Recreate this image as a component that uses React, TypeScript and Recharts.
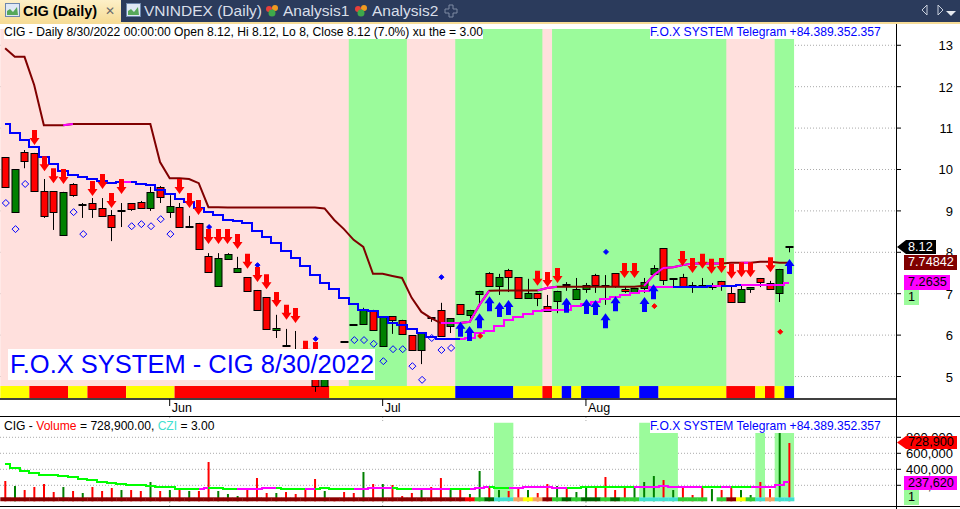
import React from "react";
import {
  Bar,
  CartesianGrid,
  Cell,
  ComposedChart,
  Line,
  ReferenceArea,
  ReferenceLine,
  XAxis,
  YAxis,
} from "recharts";

const FONT = '"Liberation Sans", Arial, sans-serif';

const opens = [10.30,8.97,10.42,10.40,9.48,9.47,8.42,9.65,9.15,9.18,9.07,8.90,9.00,9.19,9.21,9.07,9.58,8.97,9.09,8.61,8.71,7.91,7.19,7.84,7.52,7.40,7.09,6.92,6.12,5.74,5.25,5.45,5.28,4.77,5.15,5.83,6.24,6.27,6.61,5.74,6.46,6.37,6.00,5.64,6.41,6.61,6.22,6.75,6.49,6.99,7.50,7.19,7.57,7.40,6.90,7.02,6.70,6.82,7.21,6.87,7.11,7.45,7.19,7.50,7.11,7.04,7.14,7.48,8.10,7.36,7.40,7.19,7.19,7.16,7.31,7.02,6.80,7.11,7.38,7.26,7.02,8.12];
const highs = [10.30,10.01,10.47,10.40,9.77,9.47,9.46,9.67,9.19,9.31,9.31,9.02,9.19,9.19,9.24,9.58,9.60,9.38,9.19,8.88,8.71,7.98,7.98,7.98,7.89,7.40,7.09,6.92,6.49,6.15,6.10,5.50,5.30,5.45,5.50,5.83,6.24,6.66,6.61,6.46,6.46,6.37,6.00,6.05,6.43,6.78,6.41,6.75,6.61,7.07,7.52,7.48,7.60,7.40,7.36,7.02,6.97,7.07,7.28,7.38,7.26,7.48,7.45,7.50,7.16,7.14,7.38,7.69,8.10,7.36,7.48,7.28,7.38,7.26,7.31,7.19,7.19,7.16,7.38,7.31,7.60,8.12];
const lows = [9.58,8.95,10.03,9.48,8.83,8.54,8.42,9.34,8.83,8.83,8.88,8.27,8.61,9.00,9.07,9.00,9.19,8.83,8.61,8.61,8.08,7.52,7.19,7.84,7.52,7.07,6.61,6.15,5.93,5.74,5.10,5.10,4.63,4.77,5.10,5.83,6.24,6.27,6.12,5.74,6.03,6.03,5.64,5.30,6.32,5.98,6.05,6.51,6.41,6.70,7.19,6.97,7.04,6.90,6.90,6.70,6.58,6.53,7.07,6.87,7.02,7.02,6.73,7.14,7.02,7.04,7.02,7.43,7.21,7.14,7.19,7.02,7.16,7.09,7.07,6.80,6.80,7.02,7.16,7.11,6.80,8.00];
const closes = [9.58,10.01,10.20,9.48,8.88,8.97,9.46,9.38,9.15,9.03,8.88,8.61,9.00,9.05,9.07,9.46,9.34,9.12,8.61,8.61,8.08,7.52,7.86,7.96,7.62,7.07,6.61,6.15,6.17,5.74,5.20,5.20,4.77,5.40,5.45,5.83,6.24,6.61,6.12,6.46,6.37,6.03,5.64,6.05,6.41,5.98,6.41,6.51,6.61,7.07,7.19,7.40,7.40,6.90,7.02,6.90,6.58,7.07,7.21,7.11,7.21,7.21,7.19,7.19,7.05,7.14,7.28,7.62,7.33,7.36,7.19,7.19,7.19,7.21,7.19,6.80,7.11,7.16,7.28,7.11,7.60,8.12];

const upperLine = [12.93,12.72,12.72,12.04,11.07,11.07,11.07,11.10,11.10,11.10,11.10,11.10,11.10,11.10,11.10,11.10,10.18,9.79,9.79,9.77,9.67,9.09,9.09,9.08,9.08,9.08,9.08,9.08,9.08,9.08,9.08,9.08,9.08,9.06,8.78,8.56,8.30,8.13,7.48,7.48,7.43,7.38,6.90,6.56,6.41,6.29,6.29,6.29,6.32,6.73,7.07,7.08,7.08,7.08,7.08,7.08,7.14,7.17,7.17,7.17,7.17,7.17,7.17,7.17,7.17,7.17,7.19,7.45,7.62,7.64,7.69,7.73,7.73,7.73,7.73,7.75,7.75,7.75,7.77,7.77,7.75,7.75];
const lowerLine = [11.10,10.87,10.71,10.54,10.30,10.13,9.96,9.87,9.81,9.76,9.71,9.67,9.70,9.70,9.65,9.63,9.50,9.42,9.29,9.21,9.07,8.97,8.90,8.78,8.76,8.71,8.51,8.37,8.22,8.03,7.86,7.67,7.45,7.26,7.11,6.90,6.75,6.61,6.58,6.44,6.29,6.24,6.15,6.05,5.95,5.91,5.91,5.91,5.93,6.05,6.10,6.22,6.37,6.44,6.51,6.58,6.61,6.61,6.61,6.70,6.75,6.80,6.87,6.92,6.97,7.02,7.07,7.16,7.16,7.16,7.16,7.16,7.16,7.19,7.19,7.19,7.21,7.21,7.21,7.21,7.21,7.26];
const upperPinkRuns = [[6,7],[45,50],[55,57],[66,74],[76,77]];
const lowerPinkRuns = [[12,13],[47,69],[73,74],[76,81]];

const sellBars = [3,4,5,6,9,10,11,12,18,19,20,21,22,23,24,25,26,27,28,29,30,31,32,55,56,57,64,65,70,71,72,73,74,75,76,77,79];
const sellTips = [10.59,9.96,9.67,9.65,9.36,9.53,9.07,9.41,9.41,9.07,8.90,8.20,8.20,8.20,8.08,7.60,7.28,7.11,6.68,6.37,6.29,5.50,5.47,7.19,7.16,7.26,7.38,7.38,7.67,7.50,7.60,7.48,7.50,7.36,7.40,7.40,7.52];
const buyBars = [47,48,49,50,51,52,58,60,61,62,63,66,67,81];
const buyTips = [6.32,6.22,6.53,6.94,6.80,6.85,6.90,6.87,6.85,6.53,6.94,6.92,7.23,7.84];
const hollowBars = [0,1,2,7,8,13,14,15,16,17,36,37,38,39,40,41,42,43,44,45,46];
const hollowPrices = [9.19,8.56,9.65,8.97,8.44,8.63,8.68,8.63,8.80,8.44,5.88,5.88,5.79,5.37,5.66,5.66,5.25,4.92,5.93,5.64,5.69];
const blueDotBars = [21,26,32,45,62];
const blueDotPrices = [8.61,7.69,5.91,7.40,8.01];
const redDotBars = [49,67,80];
const redDotPrices = [5.98,6.70,6.08];

const greenRuns = [[36,41],[47,55],[57,74],[80,81]];
// strip under the candles: last bar of each run, and its colour
const stripEnds = [2,6,8,12,17,33,46,52,55,56,57,58,59,63,65,67,74,77,78,79,80,81];
const stripFills = ["#ffff00","#ff0000","#ffff00","#ff0000","#ffff00","#ff0000","#ffff00","#0000ff","#ffff00","#ff0000","#ffff00","#0000ff","#ffff00","#0000ff","#ffff00","#0000ff","#ffff00","#ff0000","#ffff00","#ff0000","#ffff00","#0000ff"];

const priceTicks = [5, 6, 7, 8, 9, 10, 11, 12, 13];
const monthBars = [17, 39, 60];
const monthNames = ["Jun", "Jul", "Aug"];

const volumes = [254,191,141,179,216,116,179,129,104,179,129,166,141,141,129,241,129,141,154,129,129,491,129,91,66,166,291,104,104,116,91,166,279,129,29,116,104,366,216,216,204,66,104,141,179,291,141,154,91,379,179,141,129,154,141,104,216,191,166,116,179,179,304,141,191,179,241,316,266,141,191,79,179,154,141,166,141,79,241,154,854,729].map((k) => k * 1000);
const volumeUp = [0,1,0,0,0,0,1,0,1,0,0,0,1,0,0,1,0,1,0,1,0,0,1,1,1,0,0,0,1,0,0,0,0,1,0,0,0,1,0,1,0,0,0,1,0,0,1,0,1,1,0,1,0,0,1,0,0,1,0,1,1,0,0,0,0,1,1,1,0,1,0,0,0,1,0,0,1,1,0,0,1,0];
const volumeAvg = [466,416,379,354,329,329,316,304,279,266,241,229,216,210,204,191,179,179,154,154,154,166,166,154,154,154,154,166,170,154,154,154,158,166,154,154,154,160,166,166,166,154,154,154,154,154,154,158,158,166,183,170,170,170,183,183,183,170,170,170,178,178,178,178,178,178,183,183,195,183,183,183,183,183,183,183,183,183,183,183,210,238].map((k) => k * 1000);
const volumePinkRuns = [[20,21],[24,28],[31,32],[36,40],[42,46],[48,50],[52,58],[65,68],[69,72],[74,75],[77,81]];
const volumeStripEnds = [47,48,49,50,52,53,54,55,56,57,58,59,61,62,63,65,69,72,73,74,75,76,77,78,79,81];
const volumeStripFills = ["#8b0000","#ff0000","#32cd32","#006400","#40e0d0","#f4a460","#ffff00","#f4a460","#8b0000","#32cd32","#006400","#32cd32","#006400","#32cd32","#006400","#32cd32","#40e0d0","#32cd32","transparent","#32cd32","#8b0000","#ffff00","#32cd32","#40e0d0","#f4a460","#40e0d0"];
const volumeBandBars = [[51,52,981],[66,69,981],[78,78,854],[80,81,854]];
const volumeTicks = [200000, 400000, 600000, 800000];

const inRuns = (i: number, runs: number[][]) => runs.some(([a, b]) => i >= a && i <= b);
const pick = (i: number, bars: number[], vals: number[]) => {
  const at = bars.indexOf(i);
  return at < 0 ? null : vals[at];
};
const fillAt = (i: number, ends: number[], fills: string[]) => fills[ends.findIndex((e) => i <= e)];

const priceRows = opens.map((open, i) => ({
  i,
  open,
  close: closes[i],
  high: highs[i],
  low: lows[i],
  range: [lows[i], highs[i]],
  upper: upperLine[i],
  lower: lowerLine[i],
  upperPink: inRuns(i, upperPinkRuns) ? upperLine[i] : null,
  lowerPink: inRuns(i, lowerPinkRuns) ? lowerLine[i] : null,
  sell: pick(i, sellBars, sellTips),
  buy: pick(i, buyBars, buyTips),
  hollow: pick(i, hollowBars, hollowPrices),
  blueDot: pick(i, blueDotBars, blueDotPrices),
  redDot: pick(i, redDotBars, redDotPrices),
}));

const volumeRows = volumes.map((volume, i) => ({
  i,
  volume,
  avg: volumeAvg[i],
  avgPink: inRuns(i, volumePinkRuns) ? volumeAvg[i] : null,
  strip: 50000,
  stripColor: fillAt(i, volumeStripEnds, volumeStripFills),
}));

function Candle(props: any) {
  const { x, y, width, height, payload } = props;
  const cx = Math.round(x + width / 2 + 0.7) - 0.5;
  const span = payload.high - payload.low;
  const toY = (v: number) => (span > 0 ? y + ((payload.high - v) / span) * height : y);
  const top = toY(Math.max(payload.open, payload.close));
  const bottom = toY(Math.min(payload.open, payload.close));
  const doji = payload.open === payload.close;
  return (
    <g>
      <line x1={cx} x2={cx} y1={y} y2={y + height} stroke="#000" strokeWidth={1} />
      {doji ? (
        <line x1={cx - 4} x2={cx + 4} y1={Math.round(top)} y2={Math.round(top)} stroke="#000" strokeWidth={2} />
      ) : (
        <rect
          x={cx - 3.5}
          y={Math.round(top) + 0.5}
          width={7}
          height={Math.max(1, Math.round(bottom - top))}
          fill={payload.close > payload.open ? "#008000" : "#ff0000"}
          stroke="#000"
          strokeWidth={1}
        />
      )}
    </g>
  );
}

function arrowDot(color: string, dir: number) {
  return (p: any) => {
    if (p.cy == null || p.value == null) return <g key={p.index} />;
    const x = Math.round(p.cx + 0.7) - 0.5;
    const y = p.cy;
    const pts = [[0, 0], [5, 7], [2.5, 7], [2.5, 15], [-2.5, 15], [-2.5, 7], [-5, 7]];
    return (
      <polygon
        key={p.index}
        points={pts.map(([a, b]) => `${x + a},${y + b * dir}`).join(" ")}
        fill={color}
      />
    );
  };
}

function diamondDot(fill: string, stroke: string, r: number) {
  return (p: any) => {
    if (p.cy == null || p.value == null) return <g key={p.index} />;
    const x = p.cx + 0.7;
    const y = p.cy;
    return (
      <polygon
        key={p.index}
        points={`${x},${y - r} ${x + r},${y} ${x},${y + r} ${x - r},${y}`}
        fill={fill}
        stroke={stroke}
        strokeWidth={1}
      />
    );
  };
}

function rightTick(label: (v: number) => string) {
  return (p: any) => (
    <text x={953} y={p.y + 5} textAnchor="end" fontFamily={FONT} fontSize={13} fill="#000">
      {label(p.payload.value)}
    </text>
  );
}

function monthTick(p: any) {
  const at = monthBars.indexOf(p.payload.value);
  return (
    <text x={p.x + 2} y={p.y + 4} fontFamily={FONT} fontSize={12.5} fill="#000">
      {monthNames[at]}
    </text>
  );
}

function Tag(props: { x: number; y: number; w: number; h: number; bg: string; color: string; text: string; arrow?: boolean; pad?: number }) {
  const { x, y, w, h, bg, color, text, arrow, pad } = props;
  return (
    <div
      style={{
        position: "absolute",
        left: x,
        top: y,
        width: w,
        height: h,
        boxSizing: "border-box",
        background: bg,
        color,
        font: `12.7px ${FONT}`,
        lineHeight: `${h}px`,
        paddingLeft: pad == null ? 4 : pad,
        whiteSpace: "pre",
        overflow: "hidden",
        clipPath: arrow ? `polygon(0 50%, 9px 0, 100% 0, 100% 100%, 9px 100%)` : undefined,
      }}
    >
      {text}
    </div>
  );
}

function Caption(props: { x: number; y: number; children: React.ReactNode; color?: string }) {
  return (
    <div
      style={{
        position: "absolute",
        left: props.x,
        top: props.y,
        height: 14,
        background: "#fff",
        color: props.color || "#000",
        font: `12.1px ${FONT}`,
        lineHeight: "14px",
        whiteSpace: "pre",
      }}
    >
      {props.children}
    </div>
  );
}

function ChartIcon({ x }: { x: number }) {
  return (
    <svg style={{ position: "absolute", left: x, top: 3 }} width={15} height={15}>
      <rect x={0.5} y={0.5} width={14} height={13} fill="#dfe8f5" stroke="#6d87ad" />
      <polygon points="2,12 2,8 5,6 8,9 12,4 13,12" fill="#57a85a" />
    </svg>
  );
}

function HeartIcon({ x }: { x: number }) {
  return (
    <svg style={{ position: "absolute", left: x, top: 4 }} width={15} height={14}>
      <circle cx={4} cy={5} r={3} fill="#e8403a" />
      <circle cx={10} cy={4} r={3} fill="#f09a20" />
      <circle cx={7} cy={9} r={3.5} fill="#3fa84a" />
    </svg>
  );
}

function Header() {
  const tabText = { position: "absolute" as const, top: 2, font: `15.5px ${FONT}`, lineHeight: "18px", color: "#d9dfe9", whiteSpace: "pre" as const };
  return (
    <div style={{ position: "absolute", left: 0, top: 0, width: 960, height: 24, background: "#2b3b5c" }}>
      <div style={{ position: "absolute", left: 0, top: 0, width: 121, height: 22, background: "linear-gradient(#fdf0c8,#f6dc97)" }} />
      <div style={{ position: "absolute", left: 0, top: 22, width: 960, height: 2, background: "#f6dc97" }} />
      <ChartIcon x={5} />
      <div style={{ ...tabText, left: 23, color: "#000", fontWeight: 700, fontSize: 14.5 }}>CIG (Daily)</div>
      <div style={{ ...tabText, left: 105, color: "#6b6b6b", fontSize: 12 }}>✕</div>
      <ChartIcon x={126} />
      <div style={{ ...tabText, left: 144 }}>VNINDEX (Daily)</div>
      <HeartIcon x={265} />
      <div style={{ ...tabText, left: 283 }}>Analysis1</div>
      <HeartIcon x={354} />
      <div style={{ ...tabText, left: 372 }}>Analysis2</div>
      <svg style={{ position: "absolute", left: 444, top: 4 }} width={14} height={14}>
        <path d="M5 1h4v4h4v4H9v4H5V9H1V5h4z" fill="none" stroke="#7f8ba3" />
      </svg>
      <svg style={{ position: "absolute", left: 918, top: 3 }} width={42} height={16}>
        <path d="M9 2 L4 7 L9 12 Z M20 2 L25 7 L20 12 Z" fill="none" stroke="#c8cfdc" />
        <path d="M28 8 h10 l-5 5 z" fill="#e6e9ef" />
      </svg>
    </div>
  );
}

function PriceChart() {
  const bottom = 4.77;
  const top = 13.39;
  return (
    <div style={{ position: "absolute", left: 0, top: 28 }}>
      <ComposedChart
        width={960}
        height={389}
        data={priceRows}
        barCategoryGap={0}
        margin={{ top: 0, right: 0, bottom: 0, left: 0 }}
      >
        <CartesianGrid vertical={false} stroke="#aaa" strokeDasharray="1 2" horizontalValues={priceTicks} />
        <XAxis
          dataKey="i"
          padding={{ left: 0.3, right: 101.94 }}
          ticks={monthBars}
          interval={0}
          height={18}
          tickSize={7}
          tick={monthTick}
          stroke="#000"
          axisLine={{ stroke: "#000", strokeWidth: 1.5 }}
          tickLine={{ stroke: "#000" }}
        />
        <YAxis
          orientation="right"
          width={64}
          domain={[4.457, 13.417]}
          ticks={priceTicks}
          interval={0}
          allowDataOverflow
          axisLine={false}
          tickSize={5}
          tickLine={{ stroke: "#000" }}
          tick={rightTick((v) => String(v))}
        />
        <ReferenceArea x1={0} x2={81} y1={bottom} y2={top} fill="#ffe0dd" fillOpacity={1} stroke="none" />
        {greenRuns.map(([a, b]) => (
          <ReferenceArea key={a} x1={a} x2={b} y1={bottom} y2={top} fill="#9bfb9b" fillOpacity={1} stroke="none" />
        ))}
        {stripEnds.map((end, n) => (
          <ReferenceArea key={end} x1={n ? stripEnds[n - 1] + 1 : 0} x2={end} y1={4.48} y2={bottom} fill={stripFills[n]} fillOpacity={1} stroke="none" />
        ))}
        <Bar dataKey="range" shape={Candle} isAnimationActive={false} />
        <Line dataKey="upper" stroke="#800000" strokeWidth={2} dot={false} isAnimationActive={false} />
        <Line dataKey="upperPink" stroke="#ff00ff" strokeWidth={2} dot={false} isAnimationActive={false} />
        <Line dataKey="lower" type="step" stroke="#0000ff" strokeWidth={2} dot={false} shapeRendering="crispEdges" isAnimationActive={false} />
        <Line dataKey="lowerPink" type="step" stroke="#ff00ff" strokeWidth={2} dot={false} shapeRendering="crispEdges" isAnimationActive={false} />
        <Line dataKey="hollow" stroke="none" dot={diamondDot("none", "#0000ff", 3.5)} isAnimationActive={false} />
        <Line dataKey="blueDot" stroke="none" dot={diamondDot("#0000ff", "#0000ff", 2.5)} isAnimationActive={false} />
        <Line dataKey="redDot" stroke="none" dot={diamondDot("#ff0000", "#ff0000", 2.5)} isAnimationActive={false} />
        <Line dataKey="sell" stroke="none" dot={arrowDot("#ff0000", -1)} isAnimationActive={false} />
        <Line dataKey="buy" stroke="none" dot={arrowDot("#0000ff", 1)} isAnimationActive={false} />
      </ComposedChart>
    </div>
  );
}

function VolumeChart() {
  const strip = 50000;
  return (
    <div style={{ position: "absolute", left: 0, top: 417 }}>
      <ComposedChart
        width={960}
        height={89}
        data={volumeRows}
        barCategoryGap={0}
        margin={{ top: 0, right: 0, bottom: 0, left: 0 }}
      >
        <CartesianGrid vertical={false} stroke="#aaa" strokeDasharray="1 2" horizontalValues={volumeTicks} />
        <XAxis dataKey="i" hide padding={{ left: 0.3, right: 101.94 }} />
        <XAxis dataKey="i" xAxisId="strip" hide padding={{ left: 0.3, right: 101.94 }} />
        <YAxis
          orientation="right"
          width={64}
          domain={[-58750, 1053750]}
          ticks={volumeTicks}
          interval={0}
          allowDataOverflow
          axisLine={false}
          tickSize={5}
          tickLine={{ stroke: "#000" }}
          tick={rightTick((v) => v.toLocaleString("en-US"))}
        />
        {volumeBandBars.map(([a, b, k]) => (
          <ReferenceArea key={a} x1={a} x2={b} y1={strip} y2={k * 1000} fill="#9bfb9b" fillOpacity={1} stroke="none" />
        ))}
        {monthBars.map((m) => (
          <ReferenceLine key={m} segment={[{ x: m, y: 1053750 }, { x: m, y: 985000 }]} stroke="#aaa" strokeDasharray="1 2" />
        ))}
        {monthBars.map((m) => (
          <ReferenceLine key={m} segment={[{ x: m, y: -58750 }, { x: m, y: 0 }]} stroke="#aaa" strokeDasharray="1 2" />
        ))}
        <Bar dataKey="volume" barSize={2} isAnimationActive={false}>
          {volumeRows.map((r, i) => (
            <Cell key={r.i} fill={volumeUp[i] ? "#008000" : "#ff0000"} />
          ))}
        </Bar>
        <Bar dataKey="strip" xAxisId="strip" isAnimationActive={false}>
          {volumeRows.map((r) => (
            <Cell key={r.i} fill={r.stripColor} />
          ))}
        </Bar>
        <Line dataKey="avg" type="step" stroke="#00ff00" strokeWidth={2} dot={false} shapeRendering="crispEdges" isAnimationActive={false} />
        <Line dataKey="avgPink" type="step" stroke="#ff00ff" strokeWidth={2} dot={false} shapeRendering="crispEdges" isAnimationActive={false} />
      </ComposedChart>
    </div>
  );
}

export default function App() {
  return (
    <div style={{ position: "fixed", left: 0, top: 0, width: 960, height: 509, background: "#fff", overflow: "hidden" }}>
      <Header />
      <PriceChart />
      <VolumeChart />
      <div style={{ position: "absolute", left: 0, top: 416, width: 960, height: 1, background: "#000" }} />
      <div style={{ position: "absolute", left: 0, top: 506, width: 960, height: 1, background: "#000" }} />
      <div style={{ position: "absolute", left: 896, top: 24, width: 1, height: 485, background: "#000" }} />
      <Caption x={4} y={25}>CIG - Daily 8/30/2022 00:00:00 Open 8.12, Hi 8.12, Lo 8, Close 8.12 (7.0%) xu the = 3.00</Caption>
      <Caption x={650} y={25} color="#0000ff">F.O.X SYSTEM Telegram +84.389.352.357</Caption>
      <Caption x={4} y={419}>
        CIG - <span style={{ color: "#ff0000" }}>Volume</span> = 728,900.00, <span style={{ color: "#40e0d0" }}>CZI</span> = 3.00
      </Caption>
      <Caption x={650} y={419} color="#0000ff">F.O.X SYSTEM Telegram +84.389.352.357</Caption>
      <div
        style={{
          position: "absolute",
          left: 8,
          top: 349,
          width: 367,
          height: 31,
          background: "#fff",
          color: "#0000ff",
          font: `25.5px ${FONT}`,
          lineHeight: "31px",
          paddingLeft: 2,
          boxSizing: "border-box",
          whiteSpace: "pre",
        }}
      >
        F.O.X SYSTEM - CIG 8/30/2022
      </div>
      <Tag x={897} y={240} w={39} h={14} bg="#000" color="#fff" text="8.12" pad={11} arrow />
      <Tag x={904} y={255} w={53} h={15} bg="#800000" color="#fff" text="7.74842" />
      <Tag x={904} y={275} w={46} h={15} bg="#ff00ff" color="#000" text="7.2635" />
      <Tag x={904} y={290} w={15} h={15} bg="#9bfb9b" color="#000" text="1" />
      <Tag x={897} y={436} w={60} h={13} bg="#ff0000" color="#000" text="728,900" pad={11} arrow />
      <Tag x={904} y={476} w={53} h={14} bg="#ff00ff" color="#000" text="237,620" />
      <Tag x={904} y={490} w={15} h={15} bg="#9bfb9b" color="#000" text="1" />
    </div>
  );
}
